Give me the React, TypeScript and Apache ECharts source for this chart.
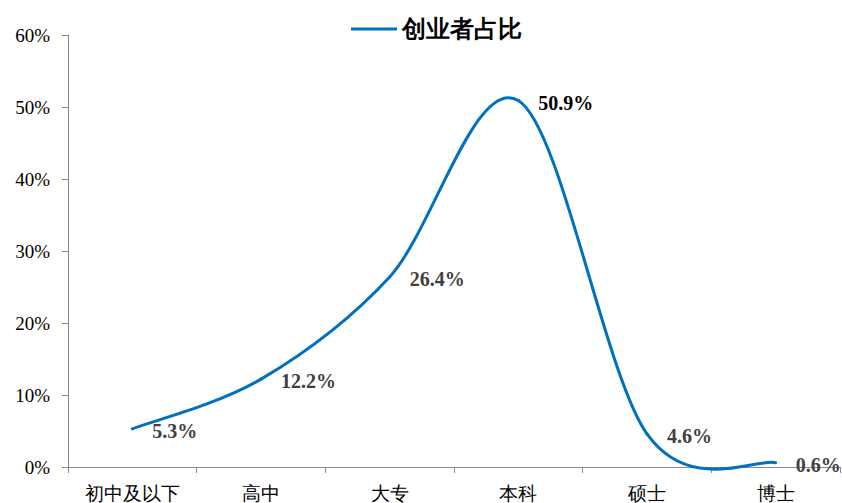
import React, { useEffect, useRef } from "react";
import * as echarts from "echarts";

const categories = ["初中及以下", "高中", "大专", "本科", "硕士", "博士"];
const values = [5.3, 12.2, 26.4, 50.9, 4.6, 0.6];
const yTicks = [0, 10, 20, 30, 40, 50, 60];
const seriesName = "创业者占比";
const lineColor = "#0070C0";

export default function App() {
  const ref = useRef<HTMLDivElement>(null);
  useEffect(() => {
    document.body.style.margin = "0";
    const chart = echarts.init(ref.current!, null, { renderer: "svg" });
    const serif = "'Liberation Serif', 'Times New Roman', serif";
    const renderItem = (params: any, api: any) => {
      const i = params.dataIndex;
      const n = values.length;
      const P = (k: number) => {
        const kk = Math.max(0, Math.min(n - 1, k));
        return api.coord([kk, values[kk]]);
      };
      const p1 = api.coord([i, api.value(1)]);
      const children: any[] = [];
      if (i < n - 1) {
        const p0 = P(i - 1);
        const p2 = P(i + 1);
        const p3 = P(i + 2);
        const c1 = [p1[0] + (p2[0] - p0[0]) / 6, p1[1] + (p2[1] - p0[1]) / 6];
        const c2 = [p2[0] - (p3[0] - p1[0]) / 6, p2[1] - (p3[1] - p1[1]) / 6];
        children.push({
          type: "bezierCurve",
          shape: { x1: p1[0], y1: p1[1], x2: p2[0], y2: p2[1], cpx1: c1[0], cpy1: c1[1], cpx2: c2[0], cpy2: c2[1] },
          style: { stroke: lineColor, lineWidth: 3, fill: null, lineCap: "round" },
          z2: 1,
        });
      }
      children.push({
        type: "text",
        x: p1[0] + 20,
        y: p1[1] + 2,
        style: {
          text: api.value(1).toFixed(1) + "%",
          font: "bold 20px 'Liberation Serif', 'Times New Roman', serif",
          fill: i === 3 ? "#000000" : "#404040",
          verticalAlign: "middle",
          align: "left",
        },
        z2: 10,
      });
      return { type: "group", children };
    };
    chart.setOption({
      animation: false,
      backgroundColor: "#ffffff",
      legend: {
        data: [seriesName],
        left: 346,
        top: 12,
        icon: "rect",
        itemWidth: 46,
        itemHeight: 3,
        itemGap: 8,
        textStyle: { fontFamily: serif, fontSize: 24, fontWeight: "bold", color: "#000" },
      },
      grid: { left: 68, right: 2, top: 35, bottom: 36, containLabel: false },
      xAxis: {
        type: "category",
        data: categories,
        boundaryGap: true,
        axisLine: { lineStyle: { color: "#888888", width: 1 } },
        axisTick: { show: true, length: 6, lineStyle: { color: "#888888" } },
        axisLabel: { fontFamily: serif, fontSize: 19, color: "#000", margin: 17, interval: 0 },
        splitLine: { show: false },
      },
      yAxis: {
        type: "value",
        min: yTicks[0],
        max: yTicks[yTicks.length - 1],
        interval: 10,
        axisLine: { show: true, lineStyle: { color: "#888888", width: 1 } },
        axisTick: { show: true, length: 6, lineStyle: { color: "#888888" } },
        axisLabel: { fontFamily: serif, fontSize: 19, color: "#000", margin: 18, formatter: "{value}%" },
        splitLine: { show: false },
      },
      series: [
        {
          name: seriesName,
          type: "custom",
          renderItem,
          itemStyle: { color: lineColor },
          clip: false,
          data: values.map((v, i) => [i, v]),
          encode: { x: 0, y: 1 },
        },
      ],
    });
    return () => chart.dispose();
  }, []);
  return <div ref={ref} style={{ width: 842, height: 503 }} />;
}
